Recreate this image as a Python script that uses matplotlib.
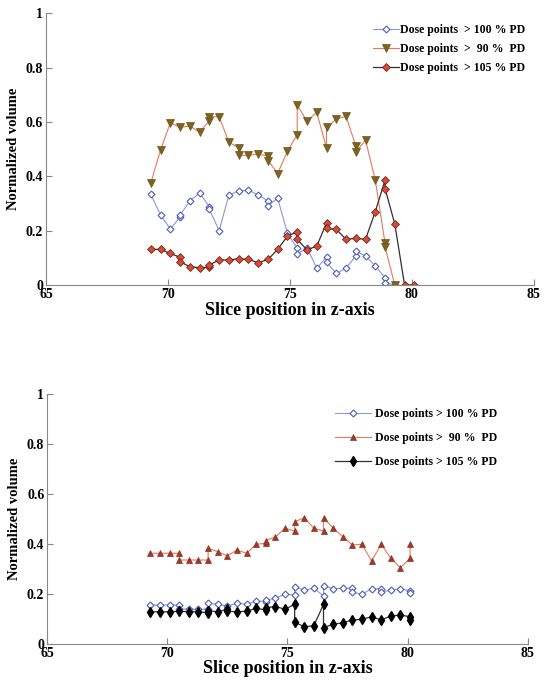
import matplotlib.pyplot as plt

plt.rcParams['font.family'] = ['Liberation Serif', 'DejaVu Serif']
plt.rcParams['font.weight'] = 'bold'

# Données (haut)
x_top_100 = [69.3, 69.7, 70.1, 70.5, 70.5, 70.9, 71.3, 71.7, 71.7, 72.1, 72.5, 72.9, 73.3, 73.7, 74.1, 74.1,
             74.5, 74.9, 75.3, 75.3, 75.7, 76.1, 76.5, 76.5, 76.9, 77.3, 77.7, 77.7, 78.1, 78.5, 78.9, 78.9, 79.3]
y_top_100 = [0.333, 0.257, 0.206, 0.25, 0.257, 0.309, 0.339, 0.288, 0.278, 0.200, 0.331, 0.346, 0.349, 0.331, 0.31, 0.292,
             0.319, 0.19, 0.135, 0.113, 0.138, 0.061, 0.104, 0.083, 0.043, 0.061, 0.107, 0.125, 0.107, 0.07, 0.027, 0.008, 0.0]

x_top_90 = [69.3, 69.7, 70.1, 70.5, 70.9, 71.3, 71.7, 71.7, 72.1, 72.5, 72.9, 72.9, 73.3, 73.7, 74.1, 74.1, 74.5,
            74.9, 75.3, 75.3, 75.7, 76.1, 76.5, 76.5, 76.9, 77.3, 77.7, 77.7, 78.1, 78.5, 78.9, 78.9, 79.3]
y_top_90 = [0.376, 0.497, 0.597, 0.58, 0.585, 0.5625, 0.604, 0.619, 0.619, 0.525, 0.505, 0.477, 0.477, 0.482, 0.474, 0.458, 0.41,
            0.493, 0.553, 0.663, 0.602, 0.636, 0.503, 0.58, 0.61, 0.621, 0.512, 0.488, 0.533, 0.386, 0.153, 0.14, 0.0]

x_top_105 = [69.3, 69.7, 70.1, 70.5, 70.5, 70.9, 71.3, 71.7, 71.7, 72.1, 72.5, 72.9, 73.3, 73.7, 74.1, 74.5, 74.9,
             75.3, 75.3, 75.7, 76.1, 76.5, 76.5, 76.9, 77.3, 77.7, 78.1, 78.5, 78.9, 78.9, 79.3, 79.7, 80.1]
y_top_105 = [0.131, 0.131, 0.116, 0.102, 0.086, 0.067, 0.064, 0.065, 0.074, 0.092, 0.092, 0.097, 0.094, 0.082, 0.094, 0.131, 0.18,
             0.196, 0.168, 0.129, 0.143, 0.228, 0.208, 0.205, 0.168, 0.172, 0.168, 0.27, 0.386, 0.355, 0.224, 0.0, 0.0]

# Données (bas)
x_bot_100 = [69.3, 69.7, 70.1, 70.5, 70.5, 70.9, 71.3, 71.7, 71.7, 72.1, 72.5, 72.9, 73.3, 73.7, 74.1, 74.1, 74.5, 74.9,
             75.3, 75.3, 75.7, 76.1, 76.5, 76.5, 76.9, 77.3, 77.7, 77.7, 78.1, 78.5, 78.9, 78.9, 79.3, 79.7, 80.1, 80.1]
y_bot_100 = [0.156, 0.156, 0.156, 0.156, 0.141, 0.139, 0.139, 0.139, 0.163, 0.159, 0.152, 0.163, 0.159, 0.172, 0.17, 0.176, 0.183, 0.199,
             0.196, 0.229, 0.216, 0.223, 0.192, 0.233, 0.221, 0.223, 0.223, 0.207, 0.199, 0.221, 0.221, 0.207, 0.216, 0.221, 0.213, 0.203]

x_bot_90 = [69.3, 69.7, 70.1, 70.5, 70.5, 70.9, 71.3, 71.7, 71.7, 72.1, 72.5, 72.9, 73.3, 73.7, 74.1, 74.1, 74.5, 74.9,
            75.3, 75.3, 75.7, 76.1, 76.5, 76.5, 76.9, 77.3, 77.7, 78.1, 78.5, 78.9, 79.3, 79.7, 80.1, 80.1]
y_bot_90 = [0.363, 0.363, 0.363, 0.363, 0.336, 0.336, 0.336, 0.336, 0.383, 0.369, 0.353, 0.376, 0.363, 0.399, 0.403, 0.414, 0.428, 0.463,
            0.452, 0.489, 0.505, 0.463, 0.452, 0.505, 0.463, 0.429, 0.396, 0.399, 0.332, 0.399, 0.343, 0.305, 0.343, 0.399]

x_bot_105 = [69.3, 69.7, 70.1, 70.5, 70.9, 71.3, 71.7, 71.7, 72.1, 72.5, 72.5, 72.9, 73.3, 73.7, 74.1, 74.1, 74.5, 74.9,
             75.3, 75.3, 75.7, 76.1, 76.5, 76.5, 76.9, 77.3, 77.7, 78.1, 78.5, 78.9, 79.3, 79.7, 80.1, 80.1]
y_bot_105 = [0.129, 0.129, 0.129, 0.131, 0.129, 0.129, 0.125, 0.133, 0.129, 0.139, 0.131, 0.129, 0.131, 0.143, 0.136, 0.145, 0.15, 0.139,
             0.159, 0.087, 0.069, 0.073, 0.159, 0.065, 0.079, 0.085, 0.096, 0.099, 0.109, 0.096, 0.112, 0.116, 0.109, 0.096]

labels_top = ['Dose points  > 100 % PD', 'Dose points  >  90 %  PD', 'Dose points  > 105 % PD']
labels_bot = ['Dose points > 100 % PD', 'Dose points >  90 %  PD', 'Dose points > 105 % PD']
xticks = [65, 70, 75, 80, 85]
yticks = [0, 0.2, 0.4, 0.6, 0.8, 1]
ytick_labels = ['0', '0.2', '0.4', '0.6', '0.8', '1']

fig = plt.figure(figsize=(5.47, 6.83), dpi=100)
ax1 = fig.add_axes([0.084, 0.5827, 0.892, 0.398])
ax2 = fig.add_axes([0.086, 0.0571, 0.879, 0.366])

ax1.plot(x_top_100, y_top_100, color='#8c96d8', lw=0.8, marker='D', ms=3.5, mfc='white', mec='#4a5cc0', mew=0.8,
         label=labels_top[0])
ax1.plot(x_top_90, y_top_90, color='#e8785a', lw=0.8, marker='v', ms=5.5, mfc='#7c6420', mec='#6a5418', mew=0.5,
         label=labels_top[1])
ax1.plot(x_top_105, y_top_105, color='#303030', lw=0.9, marker='D', ms=4, mfc='#d84a34', mec='#5a1a10', mew=0.5,
         label=labels_top[2])

ax2.plot(x_bot_100, y_bot_100, color='#8c96d8', lw=0.8, marker='D', ms=3.5, mfc='white', mec='#4a5cc0', mew=0.8,
         label=labels_bot[0])
ax2.plot(x_bot_90, y_bot_90, color='#e8785a', lw=0.8, marker='^', ms=5, mfc='#a33a28', mec='#8a2e20', mew=0.5,
         label=labels_bot[1])
ax2.plot(x_bot_105, y_bot_105, color='#303030', lw=0.9, marker='d', ms=5, mfc='black', mec='black',
         label=labels_bot[2])

for ax in (ax1, ax2):
    ax.set_xlim(65, 85)
    ax.set_ylim(0, 1)
    ax.set_xticks(xticks)
    ax.set_yticks(yticks)
    ax.set_yticklabels(ytick_labels)
    ax.spines['top'].set_visible(False)
    ax.spines['right'].set_visible(False)
    ax.spines['left'].set_color('#888888')
    ax.spines['bottom'].set_color('#888888')
    ax.tick_params(direction='in', length=4, color='#888888', labelsize=10, pad=2)
    for t in ax.get_xticklabels() + ax.get_yticklabels():
        t.set_fontweight('bold')
    ax.set_ylabel('Normalized volume', fontsize=10.5, fontweight='bold', labelpad=4)

ax1.set_xlabel('Slice position in z-axis', fontsize=13, fontweight='bold', labelpad=1)
ax2.set_xlabel('Slice position in z-axis', fontsize=13, fontweight='bold', labelpad=0)

ax1.legend(loc='upper right', bbox_to_anchor=(1.005, 1.0), frameon=False, handlelength=2.2,
           handletextpad=0.15, labelspacing=0.6, prop={'weight': 'bold', 'size': 8.5})
ax2.legend(loc='upper right', bbox_to_anchor=(0.958, 0.985), frameon=False, handlelength=3.0,
           handletextpad=0.35, labelspacing=1.0, prop={'weight': 'bold', 'size': 8.5})

plt.savefig('out.png', dpi=100)
